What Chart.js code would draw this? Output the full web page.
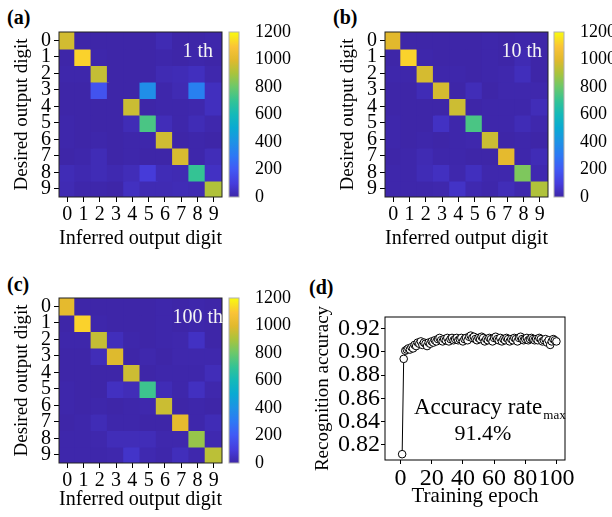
<!DOCTYPE html>
<html>
<head>
<meta charset="utf-8">
<script src="https://cdn.jsdelivr.net/npm/chart.js@4.4.1/dist/chart.umd.min.js"></script>
<style>
  body { margin: 0; background: #fff; }
  #wrap { position: relative; width: 612px; height: 517px; overflow: hidden; }
  canvas { position: absolute; }
  .tag { position: absolute; font: bold 20px 'Liberation Serif'; line-height: 20px; }
</style>
</head>
<body>
<div id="wrap">
  <div class="tag" style="left:7px;top:7px">(a)</div>
  <div class="tag" style="left:333px;top:7px">(b)</div>
  <div class="tag" style="left:7px;top:274px">(c)</div>
  <div class="tag" style="left:309px;top:277px">(d)</div>
  <canvas id="hmA" width="226" height="255" style="left:0;top:0"></canvas>
  <canvas id="cbA" width="80" height="255" style="left:226px;top:0"></canvas>
  <canvas id="hmB" width="226" height="255" style="left:326px;top:0"></canvas>
  <canvas id="cbB" width="61" height="255" style="left:551px;top:0"></canvas>
  <canvas id="hmC" width="226" height="251" style="left:0;top:266px"></canvas>
  <canvas id="cbC" width="80" height="251" style="left:226px;top:266px"></canvas>
  <canvas id="acc" width="306" height="257" style="left:306px;top:260px"></canvas>
</div>
<script>
// confusion matrices: rows = desired digit, cols = inferred digit
const digits = ['0', '1', '2', '3', '4', '5', '6', '7', '8', '9'];
const cbTicks = [0, 200, 400, 600, 800, 1000, 1200];

const conf1 = [
  [970, 0, 0, 0, 0, 0, 20, 0, 0, 5],
  [0, 1120, 5, 0, 0, 0, 5, 0, 5, 0],
  [5, 5, 945, 0, 0, 0, 20, 25, 40, 10],
  [0, 0, 180, 0, 0, 385, 5, 20, 330, 40],
  [0, 0, 0, 0, 955, 0, 5, 5, 10, 40],
  [5, 0, 0, 0, 25, 740, 30, 5, 25, 10],
  [5, 0, 5, 0, 5, 5, 965, 0, 5, 0],
  [0, 5, 25, 0, 5, 0, 0, 980, 5, 30],
  [25, 15, 25, 15, 30, 90, 25, 20, 700, 50],
  [20, 5, 5, 0, 45, 20, 20, 25, 20, 910]
];

const conf10 = [
  [1000, 0, 0, 0, 0, 0, 5, 0, 5, 0],
  [0, 1120, 5, 0, 0, 0, 5, 0, 20, 0],
  [5, 5, 975, 5, 5, 0, 5, 10, 35, 0],
  [0, 0, 25, 975, 0, 30, 0, 10, 10, 10],
  [0, 0, 0, 0, 960, 0, 5, 5, 5, 30],
  [5, 0, 0, 50, 5, 740, 5, 5, 25, 10],
  [5, 0, 5, 0, 5, 10, 955, 0, 5, 0],
  [0, 5, 20, 5, 5, 0, 0, 1010, 5, 25],
  [5, 5, 25, 45, 10, 40, 10, 10, 830, 15],
  [5, 5, 5, 10, 55, 15, 5, 30, 10, 910]
];

const conf100 = [
  [1010, 0, 0, 0, 0, 0, 5, 0, 5, 0],
  [0, 1120, 5, 0, 0, 0, 5, 0, 5, 0],
  [5, 5, 945, 35, 5, 0, 5, 10, 50, 0],
  [0, 0, 30, 990, 0, 10, 0, 10, 10, 10],
  [0, 0, 0, 0, 960, 0, 5, 5, 5, 30],
  [5, 0, 0, 45, 30, 715, 25, 5, 45, 10],
  [5, 0, 5, 0, 5, 10, 955, 0, 5, 0],
  [0, 5, 25, 5, 5, 0, 0, 1010, 5, 25],
  [5, 5, 10, 30, 30, 30, 10, 10, 870, 15],
  [5, 5, 5, 10, 60, 15, 5, 35, 10, 930]
];

// accuracy vs training epoch
const epochs = [
  1, 2, 3, 4, 5, 6, 7, 8, 9, 10, 11, 12, 13, 14, 15, 16, 17, 18, 19, 20,
  21, 22, 23, 24, 25, 26, 27, 28, 29, 30, 31, 32, 33, 34, 35, 36, 37, 38, 39, 40,
  41, 42, 43, 44, 45, 46, 47, 48, 49, 50, 51, 52, 53, 54, 55, 56, 57, 58, 59, 60,
  61, 62, 63, 64, 65, 66, 67, 68, 69, 70, 71, 72, 73, 74, 75, 76, 77, 78, 79, 80,
  81, 82, 83, 84, 85, 86, 87, 88, 89, 90, 91, 92, 93, 94, 95, 96, 97, 98, 99, 100
];
const accuracy = [
  0.812, 0.894, 0.901, 0.902, 0.903, 0.902, 0.904, 0.903, 0.906, 0.905,
  0.908, 0.907, 0.909, 0.906, 0.908, 0.907, 0.905, 0.908, 0.907, 0.909,
  0.908, 0.910, 0.909, 0.911, 0.912, 0.910, 0.909, 0.911, 0.910, 0.912,
  0.909, 0.911, 0.912, 0.910, 0.911, 0.912, 0.910, 0.911, 0.912, 0.909,
  0.911, 0.912, 0.910, 0.913, 0.914, 0.912, 0.913, 0.911, 0.910, 0.912,
  0.911, 0.913, 0.912, 0.909, 0.911, 0.910, 0.912, 0.911, 0.909, 0.912,
  0.913, 0.911, 0.910, 0.912, 0.909, 0.911, 0.910, 0.912, 0.911, 0.909,
  0.911, 0.910, 0.912, 0.911, 0.909, 0.912, 0.913, 0.911, 0.910, 0.911,
  0.912, 0.910, 0.911, 0.912, 0.911, 0.910, 0.911, 0.910, 0.912, 0.911,
  0.909, 0.910, 0.911, 0.908, 0.910, 0.906, 0.909, 0.911, 0.910, 0.909
];
const accXTicks = [0, 20, 40, 60, 80, 100];
const accYTicks = [0.82, 0.84, 0.86, 0.88, 0.90, 0.92];

// parula-like colormap
const parula = [
  [0.00, 62, 38, 168], [0.08, 70, 60, 220], [0.17, 65, 90, 245],
  [0.25, 45, 120, 245], [0.33, 30, 145, 230], [0.42, 10, 170, 210],
  [0.50, 20, 185, 185], [0.58, 50, 195, 150], [0.67, 110, 200, 105],
  [0.75, 170, 195, 60], [0.83, 225, 185, 45], [0.91, 250, 195, 55],
  [1.00, 249, 251, 14]
];
const VMAX = 1200;

function cmap(v) {
  const t = Math.min(1, Math.max(0, v / VMAX));
  for (let k = 1; k < parula.length; k++) {
    const a = parula[k - 1], b = parula[k];
    if (t <= b[0]) {
      const f = (t - a[0]) / (b[0] - a[0]);
      const c = [1, 2, 3].map(j => Math.round(a[j] + (b[j] - a[j]) * f));
      return 'rgb(' + c.join(',') + ')';
    }
  }
  return 'rgb(249,251,14)';
}

Chart.defaults.font.family = "'Liberation Serif', 'Times New Roman', serif";
Chart.defaults.color = '#000';
Chart.defaults.animation = false;
Chart.defaults.plugins.legend.display = false;
Chart.defaults.plugins.tooltip.enabled = false;

function boxPlugin(color) {
  return {
    id: 'box',
    afterDatasetsDraw(chart) {
      const a = chart.chartArea, ctx = chart.ctx;
      ctx.save();
      ctx.strokeStyle = color;
      ctx.lineWidth = 1;
      ctx.strokeRect(a.left, a.top, a.right - a.left, a.bottom - a.top);
      ctx.restore();
    }
  };
}

function heatmap(id, mat, label, g) {
  const datasets = mat.map((row, i) => ({
    data: digits.map(() => [i, i + 1]),
    backgroundColor: row.map(cmap),
    borderWidth: 0,
    inflateAmount: 1,
    grouped: false,
    barPercentage: 1,
    categoryPercentage: 1
  }));
  new Chart(document.getElementById(id), {
    type: 'bar',
    data: { labels: digits, datasets: datasets },
    options: {
      responsive: false,
      layout: { padding: g.pad },
      scales: {
        x: {
          grid: { offset: false, drawOnChartArea: false, tickLength: 5, color: '#000' },
          border: { display: false },
          ticks: { font: { size: 20 }, padding: 1, maxRotation: 0, autoSkip: false },
          title: { display: true, text: 'Inferred output digit', font: { size: 21 }, padding: 0 },
          afterFit: s => { s.height = g.xh; }
        },
        y: {
          type: 'linear', min: 0, max: 10, reverse: true,
          afterBuildTicks: s => { s.ticks = digits.map((d, i) => ({ value: i + 0.5 })); },
          grid: { drawOnChartArea: false, tickLength: 5, color: '#000' },
          border: { display: false },
          ticks: { font: { size: 20 }, padding: 3, autoSkip: false, callback: (v, i) => digits[i] },
          title: { display: true, text: 'Desired output digit', font: { size: 19 }, padding: 0 },
          afterFit: s => { s.width = g.yw; }
        }
      }
    },
    plugins: [
      {
        id: 'bg',
        beforeDatasetsDraw(chart) {
          const a = chart.chartArea;
          chart.ctx.fillStyle = cmap(0);
          chart.ctx.fillRect(a.left, a.top, a.right - a.left, a.bottom - a.top);
        }
      },
      boxPlugin('#222'),
      {
        id: 'label',
        afterDraw(chart) {
          const a = chart.chartArea, ctx = chart.ctx;
          ctx.save();
          ctx.font = "20px 'Liberation Serif'";
          ctx.fillStyle = '#f4f4f4';
          ctx.textAlign = 'right';
          ctx.textBaseline = 'alphabetic';
          ctx.fillText(label, a.right - g.tagRight, a.top + 25);
          ctx.restore();
        }
      }
    ]
  });
}

function colorbar(id, g) {
  new Chart(document.getElementById(id), {
    type: 'bar',
    data: {
      labels: [''],
      datasets: [{
        data: [[cbTicks[0], cbTicks[cbTicks.length - 1]]],
        backgroundColor: ctx => {
          const a = ctx.chart.chartArea;
          if (!a) return cmap(0);
          const grad = ctx.chart.ctx.createLinearGradient(0, a.bottom, 0, a.top);
          parula.forEach(p => grad.addColorStop(p[0], 'rgb(' + p[1] + ',' + p[2] + ',' + p[3] + ')'));
          return grad;
        },
        borderWidth: 0,
        barPercentage: 1,
        categoryPercentage: 1
      }]
    },
    options: {
      responsive: false,
      layout: { padding: g.pad },
      scales: {
        x: { display: false },
        y: {
          position: 'right', min: 0, max: VMAX,
          afterBuildTicks: s => { s.ticks = cbTicks.map(v => ({ value: v })); },
          grid: { display: false },
          border: { display: false },
          ticks: { font: { size: 18 }, padding: 8, autoSkip: false, callback: v => String(v) },
          afterFit: s => { s.width = g.yw; }
        }
      }
    },
    plugins: [boxPlugin('#b0b0b0')]
  });
}

heatmap('hmA', conf1, '1 th', { pad: { left: 11, top: 32, right: 4, bottom: 4 }, yw: 48, xh: 54, tagRight: 9 });
heatmap('hmB', conf10, '10 th', { pad: { left: 11, top: 32, right: 4, bottom: 4 }, yw: 48, xh: 54, tagRight: 6 });
heatmap('hmC', conf100, '100 th', { pad: { left: 11, top: 32, right: 4, bottom: 5 }, yw: 48, xh: 49, tagRight: -1 });
colorbar('cbA', { pad: { left: 3, top: 32, right: 0, bottom: 58 }, yw: 67 });
colorbar('cbB', { pad: { left: 3, top: 32, right: 0, bottom: 58 }, yw: 48 });
colorbar('cbC', { pad: { left: 3, top: 32, right: 0, bottom: 54 }, yw: 67 });

new Chart(document.getElementById('acc'), {
  type: 'line',
  data: {
    datasets: [{
      data: epochs.map((e, i) => ({ x: e, y: accuracy[i] })),
      borderColor: '#000',
      borderWidth: 1,
      pointRadius: 3.8,
      pointBorderWidth: 1,
      pointBackgroundColor: '#fff',
      pointBorderColor: '#000',
      tension: 0
    }]
  },
  options: {
    responsive: false,
    layout: { padding: { left: 6, top: 57, right: 47, bottom: 8 } },
    scales: {
      x: {
        type: 'linear', min: -10, max: 105.5,
        afterBuildTicks: s => { s.ticks = accXTicks.map(v => ({ value: v })); },
        grid: { drawOnChartArea: false, tickLength: 4, color: '#000' },
        border: { display: false },
        ticks: { font: { size: 24 }, padding: 0, maxRotation: 0, autoSkip: false },
        title: { display: true, text: 'Training epoch', font: { size: 21 }, padding: 0 },
        afterFit: s => { s.height = 49; }
      },
      y: {
        min: 0.807, max: 0.93,
        afterBuildTicks: s => { s.ticks = accYTicks.map(v => ({ value: v })); },
        grid: { drawOnChartArea: false, tickLength: 4, color: '#000' },
        border: { display: false },
        ticks: { font: { size: 24 }, padding: 1, autoSkip: false, callback: v => v.toFixed(2) },
        title: { display: true, text: 'Recognition accuracy', font: { size: 19 }, padding: 0 },
        afterFit: s => { s.width = 73; }
      }
    }
  },
  plugins: [
    boxPlugin('#000'),
    {
      id: 'note',
      afterDraw(chart) {
        const ctx = chart.ctx;
        ctx.save();
        ctx.fillStyle = '#000';
        ctx.textBaseline = 'alphabetic';
        ctx.textAlign = 'left';
        ctx.font = "23px 'Liberation Serif'";
        const txt = 'Accuracy rate';
        ctx.fillText(txt, 108, 154);
        const w = ctx.measureText(txt).width;
        ctx.font = "13px 'Liberation Serif'";
        ctx.fillText('max', 108 + w + 1, 159);
        ctx.font = "22px 'Liberation Serif'";
        ctx.textAlign = 'center';
        ctx.fillText('91.4%', 177, 180);
        ctx.restore();
      }
    }
  ]
});
</script>
</body>
</html>
